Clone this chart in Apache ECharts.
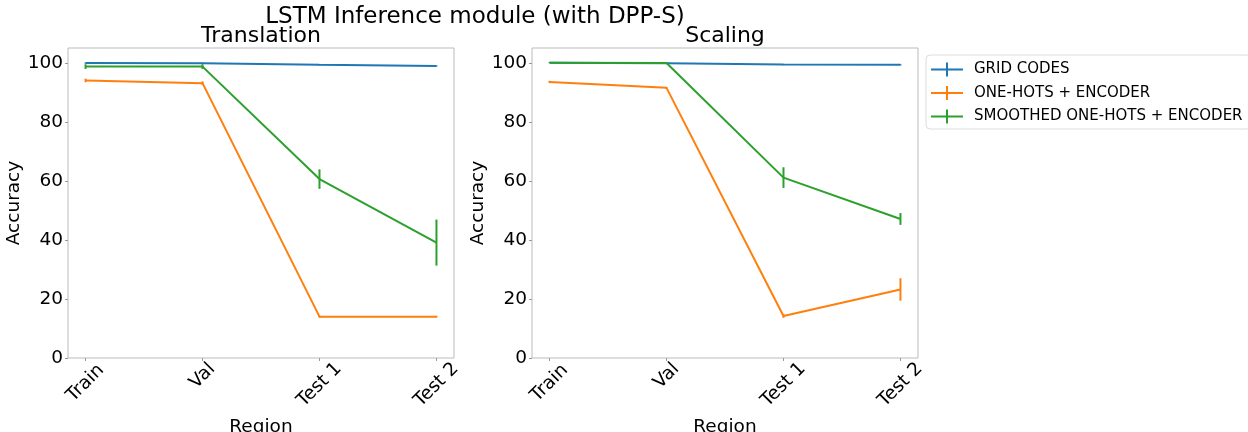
<!DOCTYPE html>
<html>
<head>
<meta charset="utf-8">
<script src="https://cdn.jsdelivr.net/npm/echarts@6/dist/echarts.min.js"></script>
<style>
  html, body { margin: 0; padding: 0; background: #fff; }
  #chart { width: 1248px; height: 432px; }
</style>
</head>
<body>
<div id="chart"></div>
<script>
// Region labels along the x axis
const categories = ['Train', 'Val', 'Test 1', 'Test 2'];
const yTicks = [0, 20, 40, 60, 80, 100];

// Translation panel: mean accuracy and half-width of the error bar
const translationGrid = [99.9, 99.8, 99.3, 98.9];
const translationGridErr = [0.2, 0.2, 0.2, 0.2];
const translationOneHot = [94.0, 93.1, 14.0, 14.0];
const translationOneHotErr = [0.6, 0.6, 0.3, 0.3];
const translationSmoothed = [98.7, 98.7, 60.6, 39.1];
const translationSmoothedErr = [0.8, 0.8, 3.3, 7.8];

// Scaling panel
const scalingGrid = [100.0, 99.8, 99.4, 99.3];
const scalingGridErr = [0.1, 0.2, 0.2, 0.2];
const scalingOneHot = [93.5, 91.5, 14.2, 23.2];
const scalingOneHotErr = [0.4, 0.3, 0.6, 3.8];
const scalingSmoothed = [100.0, 99.9, 61.1, 47.1];
const scalingSmoothedErr = [0.1, 0.2, 3.5, 2.0];

const seriesNames = ['GRID CODES', 'ONE-HOTS + ENCODER', 'SMOOTHED ONE-HOTS + ENCODER'];
const colors = ['#1f77b4', '#ff7f0e', '#2ca02c'];

const FONT = 'DejaVu Sans';
const TICK_SIZE = 18.5;

// Per-label rich styles so every rotated label hangs the same distance below the axis
const labelStyleKey = ['train', 'val', 'test', 'test'];
const labelRich = {
  train: { fontFamily: FONT, fontSize: TICK_SIZE, color: '#000', padding: [10, 10, 0, 0] },
  val:   { fontFamily: FONT, fontSize: TICK_SIZE, color: '#000', padding: [0, 0, 0, 0] },
  test:  { fontFamily: FONT, fontSize: TICK_SIZE, color: '#000', padding: [12.5, 12.5, 0, 0] }
};

function lineData(values) {
  return values.map((v, i) => [i, v]);
}
function errData(values, errs) {
  return values.map((v, i) => [i, v - errs[i], v + errs[i]]);
}

function renderErrorBar(params, api) {
  const x = api.value(0);
  const lo = api.coord([x, api.value(1)]);
  const hi = api.coord([x, api.value(2)]);
  return {
    type: 'line',
    shape: { x1: lo[0], y1: lo[1], x2: hi[0], y2: hi[1] },
    style: { stroke: api.visual('color'), lineWidth: 2 }
  };
}

function panelSeries(axisIndex, sets) {
  const out = [];
  sets.forEach((s, k) => {
    out.push({
      name: seriesNames[k],
      type: 'line',
      xAxisIndex: axisIndex,
      yAxisIndex: axisIndex,
      data: lineData(s.values),
      symbol: 'none',
      itemStyle: { color: colors[k] },
      lineStyle: { color: colors[k], width: 2 },
      z: 2 + k * 2,
      animation: false
    });
    out.push({
      name: seriesNames[k],
      type: 'custom',
      xAxisIndex: axisIndex,
      yAxisIndex: axisIndex,
      data: errData(s.values, s.errs),
      renderItem: renderErrorBar,
      itemStyle: { color: colors[k] },
      encode: { x: 0, y: [1, 2] },
      z: 3 + k * 2,
      animation: false
    });
  });
  return out;
}

function xAxis(gridIndex) {
  return {
    type: 'value',
    gridIndex: gridIndex,
    min: -0.15,
    max: 3.15,
    name: 'Region',
    nameLocation: 'middle',
    nameGap: 56,
    nameTextStyle: { fontFamily: FONT, fontSize: TICK_SIZE, color: '#000', verticalAlign: 'top' },
    axisLine: { show: false, onZero: false },
    splitLine: { show: false },
    axisTick: { show: true, length: 3, customValues: [0, 1, 2, 3], lineStyle: { color: '#999' } },
    axisLabel: {
      customValues: [0, 1, 2, 3],
      rotate: 45,
      align: 'center',
      verticalAlign: 'middle',
      margin: 18,
      formatter: v => '{' + labelStyleKey[v] + '|' + categories[v] + '}',
      rich: labelRich
    }
  };
}

function yAxis(gridIndex) {
  return {
    type: 'value',
    gridIndex: gridIndex,
    min: 0,
    max: 105,
    name: 'Accuracy',
    nameLocation: 'middle',
    nameGap: 42,
    nameTextStyle: { fontFamily: FONT, fontSize: TICK_SIZE, color: '#000' },
    axisLine: { show: false, onZero: false },
    splitLine: { show: false },
    axisTick: { show: true, length: 3, customValues: yTicks, lineStyle: { color: '#999' } },
    axisLabel: {
      customValues: yTicks,
      margin: 5,
      fontFamily: FONT,
      fontSize: TICK_SIZE,
      color: '#000'
    }
  };
}

const legendIcon = 'path://M0,6h32v2h-32z M15,0h2v14h-2z';

const gridBase = {
  top: 48, width: 386, height: 310,
  show: true, borderColor: '#bbb', borderWidth: 1,
  backgroundColor: 'transparent',
  containLabel: false,
  outerBoundsMode: 'none'
};

const option = {
  backgroundColor: '#fff',
  animation: false,
  title: [
    {
      text: 'LSTM Inference module (with DPP-S)',
      left: 475, top: 6, padding: 0, textAlign: 'center',
      textStyle: { fontFamily: FONT, fontSize: 23, fontWeight: 'normal', color: '#000' }
    },
    {
      text: 'Translation',
      left: 261, top: 25, padding: 0, textAlign: 'center',
      textStyle: { fontFamily: FONT, fontSize: 22, fontWeight: 'normal', color: '#000' }
    },
    {
      text: 'Scaling',
      left: 725, top: 25, padding: 0, textAlign: 'center',
      textStyle: { fontFamily: FONT, fontSize: 22, fontWeight: 'normal', color: '#000' }
    }
  ],
  legend: {
    orient: 'vertical',
    left: 926,
    top: 55,
    padding: [7, 8, 5, 5],
    itemWidth: 32,
    itemHeight: 15,
    itemGap: 8.5,
    icon: legendIcon,
    borderColor: '#dcdcdc',
    borderWidth: 1,
    borderRadius: 4,
    backgroundColor: 'rgba(255,255,255,0.8)',
    textStyle: { fontFamily: FONT, fontSize: 15, color: '#000', padding: [0, 0, 0, 6], lineHeight: 15 },
    data: seriesNames
  },
  grid: [
    Object.assign({ left: 68 }, gridBase),
    Object.assign({ left: 532 }, gridBase)
  ],
  xAxis: [xAxis(0), xAxis(1)],
  yAxis: [yAxis(0), yAxis(1)],
  series: [].concat(
    panelSeries(0, [
      { values: translationGrid, errs: translationGridErr },
      { values: translationOneHot, errs: translationOneHotErr },
      { values: translationSmoothed, errs: translationSmoothedErr }
    ]),
    panelSeries(1, [
      { values: scalingGrid, errs: scalingGridErr },
      { values: scalingOneHot, errs: scalingOneHotErr },
      { values: scalingSmoothed, errs: scalingSmoothedErr }
    ])
  )
};

const chart = echarts.init(document.getElementById('chart'), null, { renderer: 'canvas' });
chart.setOption(option);
</script>
</body>
</html>
